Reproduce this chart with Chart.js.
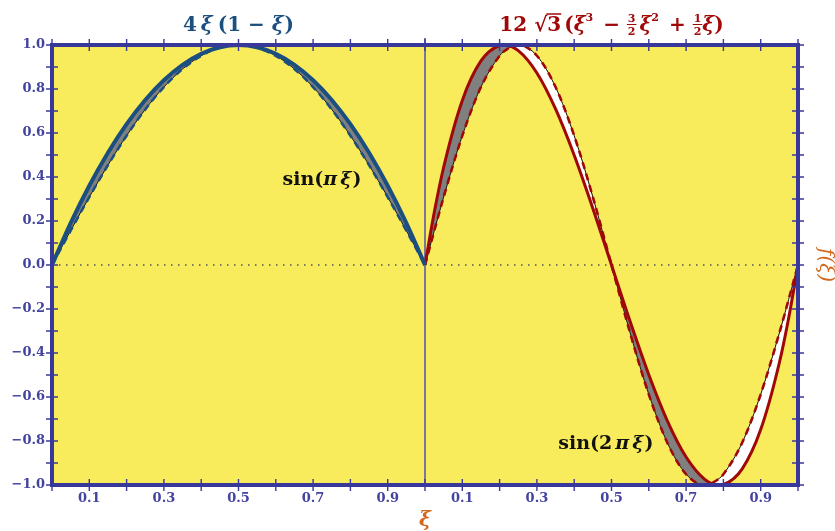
<!DOCTYPE html>
<html><head><meta charset="utf-8">
<script src="https://cdn.jsdelivr.net/npm/chart.js@4/dist/chart.umd.min.js"></script>
<style>html,body{margin:0;padding:0;background:#fff}#wrap{width:835px;height:531px}</style>
</head><body><div id="wrap"><canvas id="c" width="835" height="531"></canvas></div>
<script>
// ---- data ----
const xiLeft = [0,0.05,0.1,0.15,0.2,0.25,0.3,0.35,0.4,0.45,0.5,0.55,0.6,0.65,0.7,0.75,0.8,0.85,0.9,0.95,1];
const quadLeft = [0,0.19,0.36,0.51,0.64,0.75,0.84,0.91,0.96,0.99,1,0.99,0.96,0.91,0.84,0.75,0.64,0.51,0.36,0.19,0];
const sinLeft = [0,0.1564,0.309,0.454,0.5878,0.7071,0.809,0.891,0.9511,0.9877,1,0.9877,0.9511,0.891,0.809,0.7071,0.5878,0.454,0.309,0.1564,0];

const xiRight = [0,0.025,0.05,0.1,0.15,0.2,0.2113,0.25,0.3,0.35,0.4,0.45,0.5,0.55,0.6,0.65,0.7,0.75,0.7887,0.8,0.85,0.9,0.95,0.975,1];
const cubicRight = [0,0.2406,0.4443,0.7482,0.9275,0.9977,1.0,0.9743,0.873,0.7093,0.4988,0.2572,0,-0.2572,-0.4988,-0.7093,-0.873,-0.9743,-1.0,-0.9977,-0.9275,-0.7482,-0.4443,-0.2406,0];
const sinRight = [0,0.1564,0.309,0.5878,0.809,0.9511,0.9706,1,0.9511,0.809,0.5878,0.309,0,-0.309,-0.5878,-0.809,-0.9511,-1,-0.9706,-0.9511,-0.809,-0.5878,-0.309,-0.1564,0];

const xTickLocal = [0,0.1,0.2,0.3,0.4,0.5,0.6,0.7,0.8,0.9,1.0];
const xTickLabels = ['','0.1','','0.3','','0.5','','0.7','','0.9',''];
const yTickValues = [-1,-0.9,-0.8,-0.7,-0.6,-0.5,-0.4,-0.3,-0.2,-0.1,0,0.1,0.2,0.3,0.4,0.5,0.6,0.7,0.8,0.9,1];
const yTickLabels = ['\u22121.0','','\u22120.8','','\u22120.6','','\u22120.4','','\u22120.2','','0.0','','0.2','','0.4','','0.6','','0.8','','1.0'];

// ---- styles ----
const YELLOW = '#f8eb5c', FRAME = '#38389a', TICKTXT = '#4343a0';
const BLUE = '#1b4f80', RED = '#a00808', GRAY = '#808080', ORANGE = '#d2691e';
const SERIF = '"DejaVu Serif", serif';

// combined x axis: left panel 0..1, right panel 1..2
const xTickValuesAll = xTickLocal.concat(xTickLocal.slice(1).map(v => +(v + 1).toFixed(2)));
const xTickLabelsAll = xTickLabels.concat(xTickLabels.slice(1));

const pts = (xs, ys, off) => xs.map((x, i) => ({x: x + off, y: ys[i]}));

function drawRich(ctx, pieces, cx, baseY, color) {
  ctx.save();
  ctx.fillStyle = color; ctx.strokeStyle = color;
  ctx.textBaseline = 'alphabetic';
  let total = 0;
  pieces.forEach(p => {
    if (p.frac) { ctx.font = p.font; p.w = Math.max(ctx.measureText(p.frac[0]).width, ctx.measureText(p.frac[1]).width) + 2; }
    else { ctx.font = p.font; p.w = ctx.measureText(p.t).width; }
    total += p.w + (p.gap || 0);
  });
  let x = cx - total / 2;
  pieces.forEach(p => {
    ctx.font = p.font;
    if (p.frac) {
      ctx.textAlign = 'center';
      ctx.fillText(p.frac[0], x + p.w / 2, baseY - 9);
      ctx.fillText(p.frac[1], x + p.w / 2, baseY + 4);
      ctx.lineWidth = 1;
      ctx.beginPath(); ctx.moveTo(x, baseY - 6.5); ctx.lineTo(x + p.w, baseY - 6.5); ctx.stroke();
      ctx.textAlign = 'left';
    } else {
      ctx.textAlign = 'left';
      ctx.fillText(p.t, x, baseY + (p.dy || 0));
      if (p.over) {
        ctx.lineWidth = 1.5;
        ctx.beginPath(); ctx.moveTo(x - 1, baseY - 17); ctx.lineTo(x + p.w, baseY - 17); ctx.stroke();
      }
    }
    x += p.w + (p.gap || 0);
  });
  ctx.restore();
}

const decor = {
  id: 'decor',
  beforeDraw(chart) {
    const {ctx, chartArea: a} = chart;
    ctx.save();
    ctx.fillStyle = YELLOW;
    ctx.fillRect(a.left, a.top, a.right - a.left, a.bottom - a.top);
    ctx.restore();
  },
  beforeDatasetsDraw(chart) {
    const {ctx, chartArea: a, scales: {x, y}} = chart;
    ctx.save();
    const y0 = y.getPixelForValue(0);
    ctx.strokeStyle = '#555'; ctx.lineWidth = 1.4; ctx.setLineDash([1.5, 5.5]);
    ctx.beginPath(); ctx.moveTo(a.left, y0); ctx.lineTo(a.right, y0); ctx.stroke();
    ctx.setLineDash([]);
    const xm = x.getPixelForValue(1);
    ctx.strokeStyle = '#5a5aa8'; ctx.lineWidth = 1.6;
    ctx.beginPath(); ctx.moveTo(xm, a.top - 7); ctx.lineTo(xm, a.bottom); ctx.stroke();
    ctx.restore();
  },
  afterDatasetsDraw(chart) {
    const {ctx, scales: {x, y}} = chart;
    const b = 'bold 19px ' + SERIF, bi = 'italic bold 19px ' + SERIF;
    drawRich(ctx, [
      {t: 'sin(', font: b}, {t: '\u03C0', font: bi, gap: 3}, {t: '\u03BE', font: bi, gap: 1}, {t: ')', font: b}
    ], x.getPixelForValue(0.724), y.getPixelForValue(0.395) + 7, '#111');
    drawRich(ctx, [
      {t: 'sin(2', font: b, gap: 3}, {t: '\u03C0', font: bi, gap: 3}, {t: '\u03BE', font: bi, gap: 1}, {t: ')', font: b}
    ], x.getPixelForValue(1.485), y.getPixelForValue(-0.803) + 7, '#111');
  },
  afterDraw(chart) {
    const {ctx, chartArea: a, scales: {x, y}} = chart;
    ctx.save();
    ctx.strokeStyle = FRAME; ctx.lineWidth = 1.4;
    x.ticks.forEach(t => {
      const px = x.getPixelForValue(t.value);
      ctx.beginPath();
      ctx.moveTo(px, a.bottom - 6); ctx.lineTo(px, a.bottom + 6);
      ctx.moveTo(px, a.top - 6); ctx.lineTo(px, a.top + 6);
      ctx.stroke();
    });
    y.ticks.forEach(t => {
      const py = y.getPixelForValue(t.value);
      ctx.beginPath();
      ctx.moveTo(a.left - 6, py); ctx.lineTo(a.left + 6, py);
      ctx.moveTo(a.right - 6, py); ctx.lineTo(a.right + 6, py);
      ctx.stroke();
    });
    ctx.lineWidth = 4;
    ctx.strokeRect(a.left, a.top, a.right - a.left, a.bottom - a.top);
    ctx.restore();
    // titles
    const T = 'bold 20px ' + SERIF, TI = 'italic bold 20px ' + SERIF, S = 'bold 11px ' + SERIF;
    drawRich(ctx, [
      {t: '4', font: T, gap: 4}, {t: '\u03BE', font: TI, gap: 5}, {t: '(1 \u2212 ', font: T}, {t: '\u03BE', font: TI, gap: 1}, {t: ')', font: T}
    ], x.getPixelForValue(0.5), 31, BLUE);
    drawRich(ctx, [
      {t: '12 ', font: T}, {t: '\u221A', font: T}, {t: '3', font: T, over: true, gap: 3},
      {t: '(', font: T}, {t: '\u03BE', font: TI}, {t: '3', font: S, dy: -10, gap: 3},
      {t: ' \u2212 ', font: T}, {frac: ['3', '2'], font: S, gap: 3}, {t: '\u03BE', font: TI}, {t: '2', font: S, dy: -10, gap: 3},
      {t: ' + ', font: T}, {frac: ['1', '2'], font: S}, {t: '\u03BE', font: TI}, {t: ')', font: T}
    ], x.getPixelForValue(1.5), 31, RED);
  }
};

const tickFont = {family: SERIF, size: 13, weight: 'bold'};

new Chart(document.getElementById('c'), {
  type: 'line',
  data: {
    datasets: [
      {data: pts(xiLeft, quadLeft, 0), borderColor: BLUE, borderWidth: 4, pointRadius: 0,
        cubicInterpolationMode: 'monotone', fill: {target: 1, above: GRAY, below: '#ffffff'}, order: 0},
      {data: pts(xiLeft, sinLeft, 0), borderColor: '#111', borderWidth: 1, pointRadius: 0,
        cubicInterpolationMode: 'monotone', fill: false, order: 2},
      {data: pts(xiLeft, sinLeft, 0), borderColor: BLUE, borderWidth: 2.6, borderDash: [7, 5], pointRadius: 0,
        cubicInterpolationMode: 'monotone', fill: false, order: 1},
      {data: pts(xiRight, cubicRight, 1), borderColor: RED, borderWidth: 3, pointRadius: 0,
        cubicInterpolationMode: 'monotone', fill: {target: 4, above: GRAY, below: '#ffffff'}, order: 0},
      {data: pts(xiRight, sinRight, 1), borderColor: '#111', borderWidth: 1, pointRadius: 0,
        cubicInterpolationMode: 'monotone', fill: false, order: 2},
      {data: pts(xiRight, sinRight, 1), borderColor: RED, borderWidth: 2.6, borderDash: [7, 5], pointRadius: 0,
        cubicInterpolationMode: 'monotone', fill: false, order: 1}
    ]
  },
  options: {
    responsive: false, animation: false, devicePixelRatio: 1,
    layout: {padding: {top: 45, left: 0, right: 0, bottom: 0}},
    plugins: {legend: {display: false}, tooltip: {enabled: false}, filler: {drawTime: 'beforeDatasetsDraw'}},
    scales: {
      x: {
        type: 'linear', position: 'bottom', min: 0, max: 2,
        afterBuildTicks: s => { s.ticks = xTickValuesAll.map(v => ({value: v})); },
        afterFit: s => { s.height = 46; },
        ticks: {autoSkip: false, maxRotation: 0, padding: 6, color: TICKTXT, font: tickFont,
          callback: (v, i) => xTickLabelsAll[i]},
        grid: {display: false, drawTicks: false},
        border: {display: false},
        title: {display: true, text: '\u03BE', color: ORANGE, font: {family: SERIF, size: 20, style: 'italic', weight: 'bold', lineHeight: 1}, padding: {top: 0, bottom: 0}}
      },
      y: {
        type: 'linear', position: 'left', min: -1, max: 1,
        afterBuildTicks: s => { s.ticks = yTickValues.map(v => ({value: v})); },
        afterFit: s => { s.width = 52; },
        ticks: {autoSkip: false, padding: 7, color: TICKTXT, font: tickFont,
          callback: (v, i) => yTickLabels[i]},
        grid: {display: false, drawTicks: false},
        border: {display: false}
      },
      y2: {
        type: 'linear', position: 'right', min: -1, max: 1,
        afterFit: s => { s.width = 37; },
        ticks: {display: false},
        grid: {display: false, drawTicks: false},
        border: {display: false},
        title: {display: true, text: 'f(\u03BE)', color: ORANGE, font: {family: SERIF, size: 20, style: 'italic', lineHeight: 1}, padding: {top: 0, bottom: 0}}
      }
    }
  },
  plugins: [decor]
});
</script>
</body></html>
